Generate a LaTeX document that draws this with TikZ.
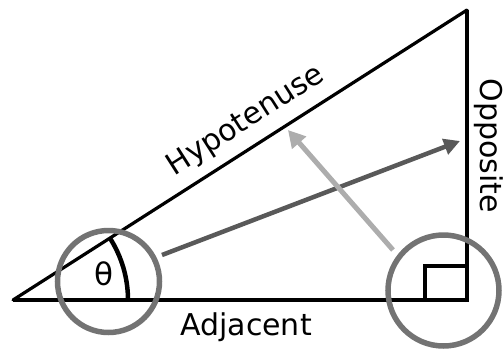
\documentclass[tikz,border=0pt]{standalone}
\usepackage{fontspec}
\setmainfont{DejaVu Sans}
\usetikzlibrary{arrows.meta}
\begin{document}
\begin{tikzpicture}[x=1pt,y=-1pt,
  side/.style={line width=4.5pt,line cap=butt},
  hyp/.style={line width=3.2pt,line cap=round},
  ring/.style={draw=black!55,line width=5.5pt},
  lbl/.style={font=\fontsize{30}{31}\selectfont,inner sep=0pt}]
\useasboundingbox (0,0) rectangle (504,349);
\coordinate (A) at (13,300);
\coordinate (T) at (467,10);
% triangle
\draw[hyp] (A) -- (T);
\draw[side] (A) -- (469,300);
\draw[side] (467,302) -- (T);
% right angle square
\draw[line width=4.5pt,line join=miter] (467,266) -- (425,266) -- (425,300);
% theta arc
\draw[line width=4.5pt] (A) ++(0:115) arc (0:-32.6:115);
\node[lbl,font=\fontsize{31}{32}\selectfont] (th) at (104,274) {θ};
% circles
\node[ring,circle,minimum size=102pt,inner sep=0pt] (c1) at (108.5,281.5) {};
\node[ring,circle,minimum size=111pt,inner sep=0pt] (c2) at (443.5,290.5) {};
% arrows
\coordinate (d0) at (162,255);
\coordinate (d1) at (460,141);
\draw[draw=black!65,line width=4.5pt,-{Triangle[length=16pt,width=16pt]}] (d0) -- (d1);
\coordinate (l0) at (393,250);
\coordinate (l1) at (288,130);
\draw[draw=black!32,line width=5pt,-{Triangle[length=17pt,width=18pt]}] (l0) -- (l1);
% labels
\node[lbl] (adj) at (246,327) {Adjacent};
\node[lbl,rotate=-90] (opp) at (489,146) {Opposite};
\node[lbl,rotate=32.6] (hy) at (246,121) {Hypotenuse};
\end{tikzpicture}
\end{document}
